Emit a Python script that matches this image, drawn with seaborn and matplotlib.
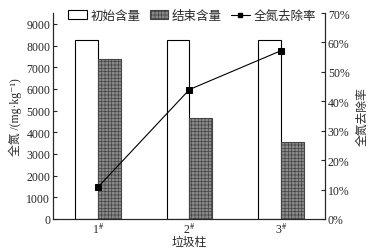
import matplotlib
matplotlib.use("Agg")
import matplotlib.pyplot as plt
import seaborn as sns
import pandas as pd
import numpy as np
from matplotlib.patches import Patch
from matplotlib.lines import Line2D

sns.set_style("ticks")
plt.rcParams['font.family'] = ['Liberation Serif', 'Noto Sans CJK SC', 'DejaVu Sans']
plt.rcParams['hatch.linewidth'] = 0.5
plt.rcParams['mathtext.fontset'] = 'stix'

categories = ["1$^{\\#}$", "2$^{\\#}$", "3$^{\\#}$"]
initial = [8260, 8260, 8260]
final = [7390, 4650, 3550]
removal = [10.8, 44.0, 57.2]
series_names = ["初始含量", "结束含量", "全氮去除率"]

df = pd.DataFrame({
    "cat": categories * 2,
    "val": initial + final,
    "series": [series_names[0]] * 3 + [series_names[1]] * 3,
})

fig = plt.figure(figsize=(3.79, 2.53), dpi=100)
ax = fig.add_axes([53/379, 1-220/253, 272/379, 206/253])

sns.barplot(data=df, x="cat", y="val", hue="series", ax=ax, width=0.5,
            palette=["white", "#8a8a8a"], edgecolor="black", linewidth=0.8,
            legend=False, saturation=1)
for p in ax.patches[3:6]:
    p.set_hatch("+++++")
    p.set_edgecolor("#444444")
for p in ax.patches[:3]:
    p.set_edgecolor("black")

ax.set_ylim(0, 9500)
ax.set_xlim(-0.49, 2.48)
ax.set_yticks(np.arange(0, 9001, 1000))
ax.set_xlabel("垃圾柱", fontsize=8.5, labelpad=0)
ax.set_ylabel("全氮 /(mg·kg⁻¹)", fontsize=8.5, labelpad=3)
ax.tick_params(axis='both', labelsize=8.5, length=3, width=0.8, pad=2, direction='in')
ax.tick_params(axis='x', length=0)
ax.spines["top"].set_visible(False)

ax2 = ax.twinx()
sns.lineplot(x=[0, 1, 2], y=removal, ax=ax2, color="black", marker="s",
             markersize=4, linewidth=0.8, markeredgecolor="black")
ax2.set_ylim(0, 70)
ax2.set_yticks(np.arange(0, 71, 10))
ax2.set_yticklabels([f"{v}%" for v in range(0, 71, 10)])
ax2.set_ylabel("全氮去除率", fontsize=8.5, labelpad=5)
ax2.tick_params(axis='y', labelsize=8.5, length=3, width=0.8, direction='in', pad=2)
ax2.spines["top"].set_visible(False)
for a in (ax, ax2):
    for s in a.spines.values():
        s.set_linewidth(0.8)

handles = [
    Patch(facecolor="white", edgecolor="black", linewidth=0.8),
    Patch(facecolor="#8a8a8a", edgecolor="#444444", hatch="+++++", linewidth=0.8),
    Line2D([0], [0], color="black", marker="s", markersize=3, linewidth=0.8),
]
fig.legend(handles, series_names, loc="center", bbox_to_anchor=(192/379, 1-17/253),
           ncol=3, frameon=False, fontsize=9, handlelength=1.5, handleheight=0.7,
           columnspacing=0.7, handletextpad=0.3, borderpad=0)

fig.savefig("out.png", dpi=100)
